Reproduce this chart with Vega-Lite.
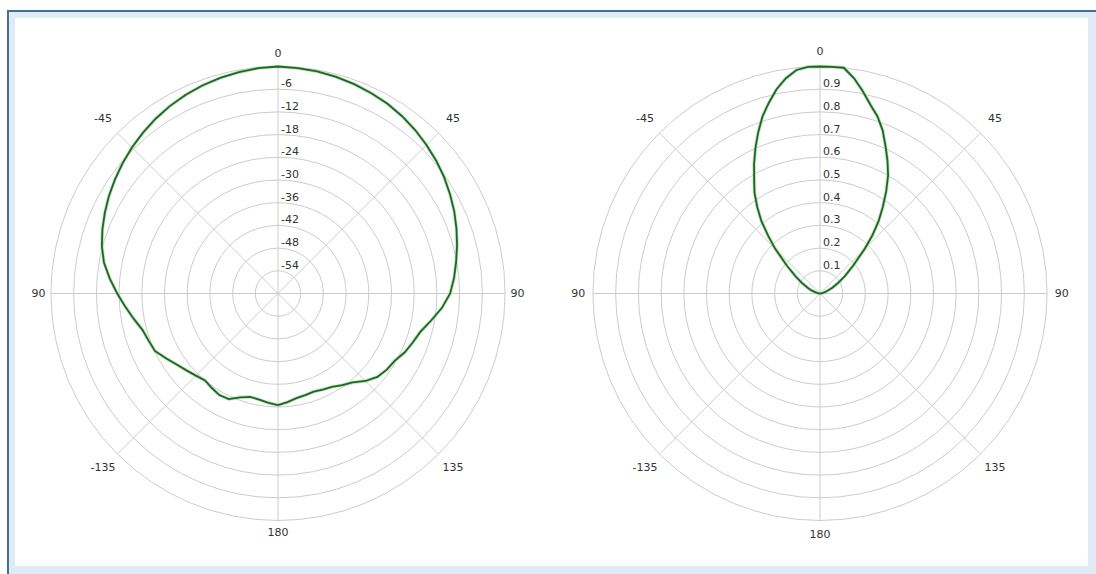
{
  "$schema": "https://vega.github.io/schema/vega-lite/v6.json",
  "autosize": {"type": "none"},
  "width": 1089,
  "height": 564,
  "padding": {"left": 7, "top": 10, "right": 0, "bottom": 0},
  "background": "#ffffff",
  "config": {"view": {"stroke": null}},
  "datasets": {
    "gainDb": [
      {"angle": -180, "db": -30.5}, {"angle": -175, "db": -31.0}, {"angle": -170, "db": -31.5},
      {"angle": -165, "db": -31.7}, {"angle": -160, "db": -30.8}, {"angle": -155, "db": -29.2},
      {"angle": -150, "db": -29.0}, {"angle": -145, "db": -29.5}, {"angle": -140, "db": -30.0},
      {"angle": -135, "db": -29.3}, {"angle": -130, "db": -28.4}, {"angle": -125, "db": -27.3},
      {"angle": -120, "db": -25.8}, {"angle": -115, "db": -24.1}, {"angle": -110, "db": -23.6},
      {"angle": -105, "db": -22.9}, {"angle": -100, "db": -21.3}, {"angle": -95, "db": -19.5},
      {"angle": -90, "db": -17.5}, {"angle": -85, "db": -15.4}, {"angle": -80, "db": -13.3},
      {"angle": -75, "db": -11.8}, {"angle": -70, "db": -10.6}, {"angle": -65, "db": -9.5},
      {"angle": -60, "db": -8.4}, {"angle": -55, "db": -7.4}, {"angle": -50, "db": -6.4},
      {"angle": -45, "db": -5.4}, {"angle": -40, "db": -4.5}, {"angle": -35, "db": -3.6},
      {"angle": -30, "db": -2.8}, {"angle": -25, "db": -2.1}, {"angle": -20, "db": -1.5},
      {"angle": -15, "db": -1.0}, {"angle": -10, "db": -0.6}, {"angle": -5, "db": -0.2},
      {"angle": 0, "db": 0.0}, {"angle": 5, "db": -0.2}, {"angle": 10, "db": -0.4},
      {"angle": 15, "db": -0.7}, {"angle": 20, "db": -1.1}, {"angle": 25, "db": -1.6},
      {"angle": 30, "db": -2.1}, {"angle": 35, "db": -2.8}, {"angle": 40, "db": -3.6},
      {"angle": 45, "db": -4.5}, {"angle": 50, "db": -5.4}, {"angle": 55, "db": -6.4},
      {"angle": 60, "db": -7.5}, {"angle": 65, "db": -8.6}, {"angle": 70, "db": -9.8},
      {"angle": 75, "db": -11.0}, {"angle": 80, "db": -12.2}, {"angle": 85, "db": -13.3},
      {"angle": 90, "db": -14.5}, {"angle": 95, "db": -16.5}, {"angle": 100, "db": -18.9},
      {"angle": 105, "db": -21.0}, {"angle": 110, "db": -22.1}, {"angle": 115, "db": -23.1},
      {"angle": 120, "db": -24.4}, {"angle": 125, "db": -24.9}, {"angle": 130, "db": -25.7},
      {"angle": 135, "db": -27.3}, {"angle": 140, "db": -29.3}, {"angle": 145, "db": -30.4},
      {"angle": 150, "db": -31.5}, {"angle": 155, "db": -32.0}, {"angle": 160, "db": -32.4},
      {"angle": 165, "db": -32.2}, {"angle": 170, "db": -31.9}, {"angle": 175, "db": -31.2},
      {"angle": 180, "db": -30.5}
    ],
    "gainLinear": [
      {"angle": -90, "v": 0.0}, {"angle": -80, "v": 0.01}, {"angle": -75, "v": 0.02},
      {"angle": -70, "v": 0.04}, {"angle": -65, "v": 0.06}, {"angle": -60, "v": 0.09},
      {"angle": -55, "v": 0.13}, {"angle": -50, "v": 0.19}, {"angle": -45, "v": 0.28},
      {"angle": -42, "v": 0.34}, {"angle": -39, "v": 0.41}, {"angle": -36, "v": 0.47},
      {"angle": -33, "v": 0.53}, {"angle": -30, "v": 0.58}, {"angle": -27, "v": 0.64},
      {"angle": -24, "v": 0.70}, {"angle": -21, "v": 0.76}, {"angle": -18, "v": 0.82},
      {"angle": -15, "v": 0.87}, {"angle": -12, "v": 0.92}, {"angle": -9, "v": 0.96},
      {"angle": -6, "v": 0.99}, {"angle": -3, "v": 1.0}, {"angle": 0, "v": 1.0},
      {"angle": 3, "v": 1.0}, {"angle": 6, "v": 1.0}, {"angle": 9, "v": 0.96},
      {"angle": 12, "v": 0.91}, {"angle": 15, "v": 0.86}, {"angle": 18, "v": 0.82},
      {"angle": 21, "v": 0.77}, {"angle": 24, "v": 0.71}, {"angle": 27, "v": 0.655},
      {"angle": 30, "v": 0.60}, {"angle": 33, "v": 0.535}, {"angle": 36, "v": 0.47},
      {"angle": 39, "v": 0.41}, {"angle": 42, "v": 0.345}, {"angle": 45, "v": 0.28},
      {"angle": 50, "v": 0.19}, {"angle": 55, "v": 0.135}, {"angle": 60, "v": 0.09},
      {"angle": 65, "v": 0.06}, {"angle": 70, "v": 0.035}, {"angle": 75, "v": 0.02},
      {"angle": 80, "v": 0.01}, {"angle": 90, "v": 0.0}
    ],
    "ringsDb": [
      {"db": -54}, {"db": -48}, {"db": -42}, {"db": -36}, {"db": -30},
      {"db": -24}, {"db": -18}, {"db": -12}, {"db": -6}, {"db": 0}
    ],
    "ringsLinear": [
      {"v": 0.1}, {"v": 0.2}, {"v": 0.3}, {"v": 0.4}, {"v": 0.5},
      {"v": 0.6}, {"v": 0.7}, {"v": 0.8}, {"v": 0.9}, {"v": 1.0}
    ],
    "spokes": [{"angle": 0}, {"angle": 45}, {"angle": 90}, {"angle": 135}],
    "angleLabels": [
      {"angle": 0, "label": "0"}, {"angle": 45, "label": "45"}, {"angle": 90, "label": "90"},
      {"angle": 135, "label": "135"}, {"angle": 180, "label": "180"}, {"angle": -135, "label": "-135"},
      {"angle": -90, "label": "90"}, {"angle": -45, "label": "-45"}
    ]
  },
  "layer": [
    {
      "data": {"name": "gainDb"},
      "transform": [
        {"calculate": "(datum.db + 60) / 60", "as": "rn"},
        {"calculate": "datum.rn * sin(datum.angle * PI / 180)", "as": "x"},
        {"calculate": "datum.rn * cos(datum.angle * PI / 180)", "as": "y"}
      ],
      "mark": {"type": "line", "color": "#ffffff", "strokeWidth": 0.1, "opacity": 0},
      "encoding": {
        "x": {"field": "x", "type": "quantitative", "axis": null, "scale": {"domain": [-1.19383, 3.60352], "nice": false, "zero": false}},
        "y": {"field": "y", "type": "quantitative", "axis": null, "scale": {"domain": [-1.23568, 1.2489], "nice": false, "zero": false}},
        "order": {"field": "angle", "type": "quantitative"}
      }
    },
    {
      "data": {"values": [{"edge": "frame"}]},
      "mark": {"type": "rect", "filled": false, "color": "#dfecf8", "strokeWidth": 16, "clip": true},
      "encoding": {
        "x": {"datum": -1.19383, "type": "quantitative"}, "x2": {"datum": 3.60352},
        "y": {"datum": 1.2489, "type": "quantitative"}, "y2": {"datum": -1.23568}
      }
    },
    {
      "data": {"values": [{"edge": "frame"}]},
      "mark": {"type": "rect", "filled": false, "color": "#46708f", "strokeWidth": 4, "clip": true},
      "encoding": {
        "x": {"datum": -1.19383, "type": "quantitative"}, "x2": {"datum": 4.2},
        "y": {"datum": 1.2489, "type": "quantitative"}, "y2": {"datum": -1.9}
      }
    },
    {
      "data": {"name": "ringsDb"},
      "transform": [{"calculate": "(datum.db + 60) / 60", "as": "rn"}],
      "mark": {"type": "arc", "filled": false, "color": "#cccccc", "strokeWidth": 1, "theta": 0, "theta2": 6.2832},
      "encoding": {
        "x": {"datum": 0, "type": "quantitative"}, "y": {"datum": 0, "type": "quantitative"},
        "radius": {"field": "rn", "type": "quantitative", "stack": null, "scale": {"type": "linear", "domain": [0, 1], "range": [0, 227], "zero": true}}
      }
    },
    {
      "data": {"name": "ringsLinear"},
      "mark": {"type": "arc", "filled": false, "color": "#cccccc", "strokeWidth": 1, "theta": 0, "theta2": 6.2832},
      "encoding": {
        "x": {"datum": 2.38767, "type": "quantitative"}, "y": {"datum": 0, "type": "quantitative"},
        "radius": {"field": "v", "type": "quantitative", "stack": null}
      }
    },
    {
      "data": {"name": "spokes"},
      "transform": [
        {"calculate": "sin(datum.angle * PI / 180)", "as": "x"},
        {"calculate": "cos(datum.angle * PI / 180)", "as": "y"},
        {"calculate": "-datum.x", "as": "x2"},
        {"calculate": "-datum.y", "as": "y2"}
      ],
      "mark": {"type": "rule", "color": "#cccccc", "strokeWidth": 1},
      "encoding": {
        "x": {"field": "x", "type": "quantitative"}, "y": {"field": "y", "type": "quantitative"},
        "x2": {"field": "x2"}, "y2": {"field": "y2"}
      }
    },
    {
      "data": {"name": "spokes"},
      "transform": [
        {"calculate": "2.38767 + sin(datum.angle * PI / 180)", "as": "x"},
        {"calculate": "cos(datum.angle * PI / 180)", "as": "y"},
        {"calculate": "2.38767 - sin(datum.angle * PI / 180)", "as": "x2"},
        {"calculate": "-datum.y", "as": "y2"}
      ],
      "mark": {"type": "rule", "color": "#cccccc", "strokeWidth": 1},
      "encoding": {
        "x": {"field": "x", "type": "quantitative"}, "y": {"field": "y", "type": "quantitative"},
        "x2": {"field": "x2"}, "y2": {"field": "y2"}
      }
    },
    {
      "data": {"name": "ringsDb"},
      "transform": [
        {"filter": "datum.db < 0"},
        {"calculate": "(datum.db + 60) / 60", "as": "y"},
        {"calculate": "0", "as": "x"}
      ],
      "mark": {"type": "text", "align": "left", "baseline": "alphabetic", "dx": 3, "dy": -2, "font": "DejaVu Sans", "fontSize": 11, "color": "#333333"},
      "encoding": {
        "x": {"field": "x", "type": "quantitative"}, "y": {"field": "y", "type": "quantitative"},
        "text": {"field": "db", "type": "nominal"}
      }
    },
    {
      "data": {"name": "ringsLinear"},
      "transform": [
        {"filter": "datum.v < 1"},
        {"calculate": "2.38767", "as": "x"}
      ],
      "mark": {"type": "text", "align": "left", "baseline": "alphabetic", "dx": 3, "dy": -2, "font": "DejaVu Sans", "fontSize": 11, "color": "#333333"},
      "encoding": {
        "x": {"field": "x", "type": "quantitative"}, "y": {"field": "v", "type": "quantitative"},
        "text": {"field": "v", "type": "nominal"}
      }
    },
    {
      "data": {"name": "angleLabels"},
      "transform": [
        {"calculate": "abs(datum.angle) % 90 === 0 ? 1.055 : 1.09", "as": "r"},
        {"calculate": "datum.r * sin(datum.angle * PI / 180)", "as": "x"},
        {"calculate": "datum.r * cos(datum.angle * PI / 180)", "as": "y"}
      ],
      "mark": {"type": "text", "align": "center", "baseline": "middle", "font": "DejaVu Sans", "fontSize": 11, "color": "#333333"},
      "encoding": {
        "x": {"field": "x", "type": "quantitative"}, "y": {"field": "y", "type": "quantitative"},
        "text": {"field": "label"}
      }
    },
    {
      "data": {"name": "angleLabels"},
      "transform": [
        {"calculate": "abs(datum.angle) % 90 === 0 ? 1.065 : 1.09", "as": "r"},
        {"calculate": "2.38767 + datum.r * sin(datum.angle * PI / 180)", "as": "x"},
        {"calculate": "datum.r * cos(datum.angle * PI / 180)", "as": "y"}
      ],
      "mark": {"type": "text", "align": "center", "baseline": "middle", "font": "DejaVu Sans", "fontSize": 11, "color": "#333333"},
      "encoding": {
        "x": {"field": "x", "type": "quantitative"}, "y": {"field": "y", "type": "quantitative"},
        "text": {"field": "label"}
      }
    },
    {
      "data": {"name": "gainDb"},
      "transform": [
        {"calculate": "(datum.db + 60) / 60", "as": "rn"},
        {"calculate": "datum.rn * sin(datum.angle * PI / 180)", "as": "x"},
        {"calculate": "datum.rn * cos(datum.angle * PI / 180)", "as": "y"}
      ],
      "mark": {"type": "line", "color": "#8ddc8d", "strokeWidth": 3.5, "opacity": 0.6},
      "encoding": {
        "x": {"field": "x", "type": "quantitative"}, "y": {"field": "y", "type": "quantitative"},
        "order": {"field": "angle", "type": "quantitative"}
      }
    },
    {
      "data": {"name": "gainDb"},
      "transform": [
        {"calculate": "(datum.db + 60) / 60", "as": "rn"},
        {"calculate": "datum.rn * sin(datum.angle * PI / 180)", "as": "x"},
        {"calculate": "datum.rn * cos(datum.angle * PI / 180)", "as": "y"}
      ],
      "mark": {"type": "line", "color": "#25622a", "strokeWidth": 1.8},
      "encoding": {
        "x": {"field": "x", "type": "quantitative"}, "y": {"field": "y", "type": "quantitative"},
        "order": {"field": "angle", "type": "quantitative"}
      }
    },
    {
      "data": {"name": "gainLinear"},
      "transform": [
        {"calculate": "2.38767 + datum.v * sin(datum.angle * PI / 180)", "as": "x"},
        {"calculate": "datum.v * cos(datum.angle * PI / 180)", "as": "y"}
      ],
      "mark": {"type": "line", "color": "#8ddc8d", "strokeWidth": 3.5, "opacity": 0.6},
      "encoding": {
        "x": {"field": "x", "type": "quantitative"}, "y": {"field": "y", "type": "quantitative"},
        "order": {"field": "angle", "type": "quantitative"}
      }
    },
    {
      "data": {"name": "gainLinear"},
      "transform": [
        {"calculate": "2.38767 + datum.v * sin(datum.angle * PI / 180)", "as": "x"},
        {"calculate": "datum.v * cos(datum.angle * PI / 180)", "as": "y"}
      ],
      "mark": {"type": "line", "color": "#25622a", "strokeWidth": 1.8},
      "encoding": {
        "x": {"field": "x", "type": "quantitative"}, "y": {"field": "y", "type": "quantitative"},
        "order": {"field": "angle", "type": "quantitative"}
      }
    }
  ]
}
